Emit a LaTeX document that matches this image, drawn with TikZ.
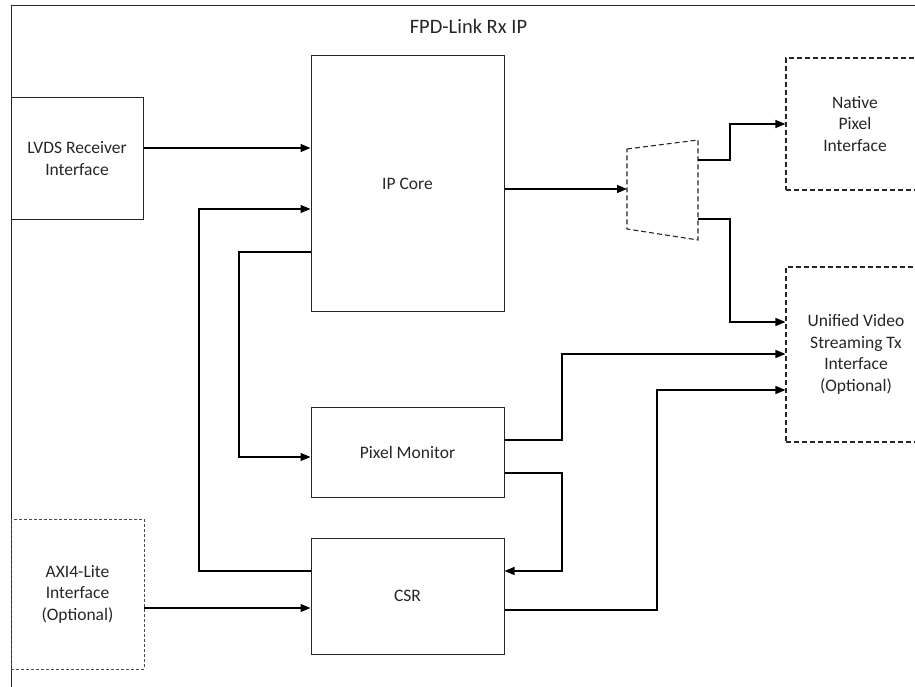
\documentclass[tikz,border=0pt]{standalone}
\usepackage{fontspec}
\setmainfont{Carlito}
\usetikzlibrary{arrows.meta}
\begin{document}
\begin{tikzpicture}[x=1pt,y=-1pt,
  every node/.style={font=\fontsize{17.5}{21.5}\selectfont, text=black!85},
  blk/.style={draw=black!85, line width=1pt, align=center, inner sep=0pt},
  dblk/.style={blk, dash pattern=on 5pt off 3pt, line width=1.1pt},
  fblk/.style={blk, draw=black!70, dash pattern=on 3pt off 2pt, line width=0.8pt},
  conn/.style={draw=black, line width=1.3pt},
  arr/.style={conn, -{Triangle[length=10pt,width=8pt]}}]
\useasboundingbox (0,0) rectangle (915,687);
\clip (0,0) rectangle (915,687);
\fill[white] (0,0) rectangle (915,687);
% outer frame
\draw[black!85, line width=1pt] (11,6) rectangle (960,720);
\node[font=\fontsize{20.5}{24}\selectfont, inner sep=0pt] (title) at (468.5,26.5) {FPD-Link Rx IP};
% blocks
\node[blk, minimum width=132pt, minimum height=121pt] (lvds) at (77,158.5) {LVDS Receiver\\Interface};
\node[blk, minimum width=193pt, minimum height=255pt] (ip) at (407.5,183.5) {IP Core};
\node[blk, minimum width=193pt, minimum height=90pt] (pm) at (407.5,452) {Pixel Monitor};
\node[blk, minimum width=193pt, minimum height=116pt] (csr) at (407.5,596) {CSR};
\node[fblk, minimum width=133pt, minimum height=150pt] (axi) at (77.5,594) {AXI4-Lite\\Interface\\(Optional)};
\node[dblk, minimum width=138pt, minimum height=132pt] (native) at (855,124) {Native\\Pixel\\Interface};
\node[dblk, minimum width=140pt, minimum height=175pt] (uvs) at (856,354.5) {Unified Video\\Streaming Tx\\Interface\\(Optional)};
% mux
\draw[black!85, line width=1.1pt, dash pattern=on 5pt off 3pt] (627,149) -- (698,140) -- (698,240) -- (627,229) -- cycle;
\coordinate (muxin) at (627,189);
\coordinate (muxa) at (698,160);
\coordinate (muxb) at (698,219);
% connectors
\draw[arr] (lvds.east |- 0,148) -- (ip.west |- 0,148);
\draw[arr] (ip.east |- muxin) -- (muxin);
\draw[arr] (muxa) -- (730,160) -- (730,124) -- (native.west);
\draw[arr] (muxb) -- (730,219) -- (730,322) -- (uvs.west |- 0,322);
\draw[arr] (pm.east |- 0,440) -- (562,440) -- (562,354) -- (uvs.west |- 0,354);
\draw[arr] (pm.east |- 0,473) -- (562,473) -- (562,571) -- (csr.east |- 0,571);
\draw[arr] (csr.east |- 0,610) -- (657,610) -- (657,390) -- (uvs.west |- 0,390);
\draw[arr] (axi.east |- 0,608) -- (csr.west |- 0,608);
\draw[arr] (csr.west |- 0,571) -- (199,571) -- (199,209) -- (ip.west |- 0,209);
\draw[arr] (ip.west |- 0,252) -- (239,252) -- (239,457) -- (pm.west |- 0,457);
\end{tikzpicture}
\end{document}
